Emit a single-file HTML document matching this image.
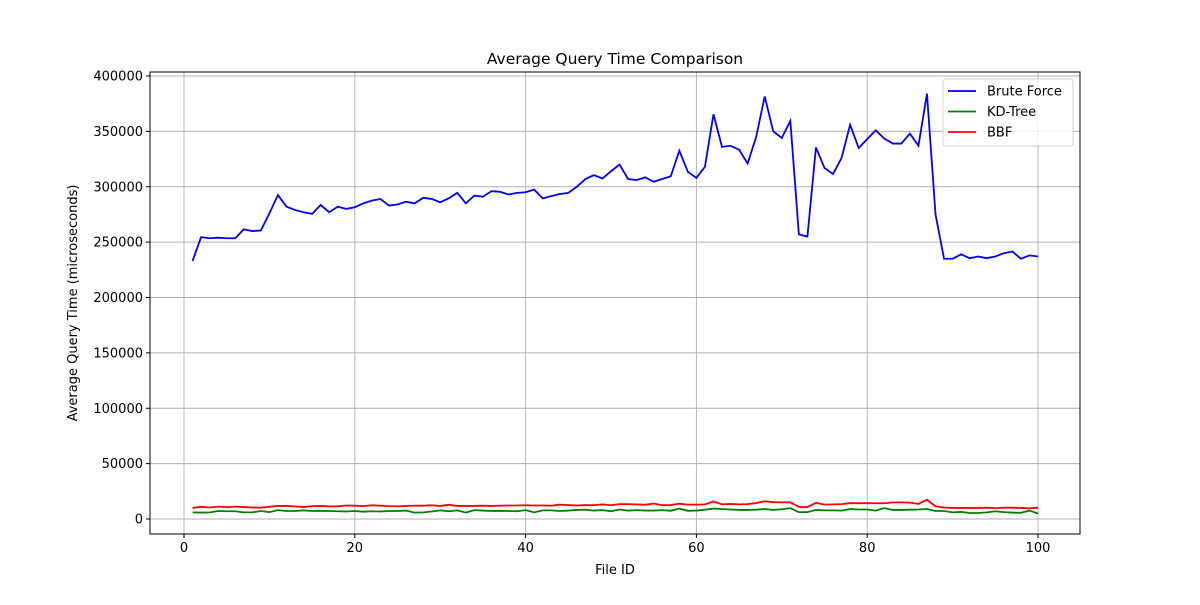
<!DOCTYPE html>
<html><head><meta charset="utf-8"><style>
body{margin:0;background:#fff;font-family:"Liberation Sans","DejaVu Sans",sans-serif;}
svg text{font-family:"DejaVu Sans","Liberation Sans",sans-serif;font-size:13px;fill:#000;}
</style></head><body>
<svg id="c" width="1200" height="600" xmlns="http://www.w3.org/2000/svg"></svg>
<script>
const bruteForce=[233000,254500,253500,254000,253500,253500,261500,260000,260500,276000,292500,282000,279000,277000,275500,283500,277000,282000,280000,281500,285000,287500,289000,283000,284000,286500,285000,290000,289000,286000,289500,294500,285000,292000,291000,296000,295500,293000,294500,295000,297500,289500,291500,293500,294500,300000,307000,310500,307500,314000,320000,307000,306000,308500,304500,307000,309500,332500,313500,308000,318000,365500,336000,337000,333500,321000,345000,381500,350000,344000,359500,257000,255000,335500,317000,311500,326000,356000,335000,343000,351000,343500,339000,339000,348000,337000,384000,275000,235000,235000,239000,235500,237000,235500,237000,240000,241500,235000,238000,237000];
const kdTree=[6000,5800,6000,7200,7000,7000,6000,6000,7200,6200,8000,7200,7200,7800,7200,7400,7200,7000,6800,7200,6600,7000,6800,7200,7200,7600,5800,6000,6800,7800,7000,7800,5800,8000,7600,7200,7400,7200,7000,8000,6000,7800,7800,7200,7600,8200,8400,7600,8000,7000,8600,7600,8000,7600,7600,8000,7400,9400,7400,7600,8400,9400,9000,8600,8200,8200,8400,9000,8200,8800,9800,6200,6200,8200,7800,7800,7600,9000,8600,8600,7600,9800,8200,8200,8400,8600,9000,7200,7200,6000,6400,5400,5400,6000,7000,6200,5800,5600,7600,5000];
const bbf=[10000,11000,10400,11200,10600,11200,10800,10400,10200,11000,11800,11800,11400,10800,11600,11800,11400,11400,12200,12000,11600,12400,12000,11600,11400,11800,12000,12000,12400,11800,12800,11800,11800,11800,12000,11800,12000,12200,12200,12400,12200,12200,12000,13000,12600,12200,12600,12400,13200,12400,13400,13400,13200,12800,14000,12400,12600,13800,13000,13000,13200,15800,13200,13600,13200,13400,14400,16000,15200,15000,15000,11000,10800,14600,13000,13200,13400,14400,14200,14400,14200,14200,15000,15000,14800,13600,17400,11400,10400,10000,10000,10000,10000,10200,9800,10200,10200,10000,9600,10200];
const xTicks=[0,20,40,60,80,100];
const yTicks=[0,50000,100000,150000,200000,250000,300000,350000,400000];
const L=150,R=1080,T=72,B=534;
const X=v=>184+v*8.54;
const Y=v=>519-v*0.0011075;
const svg=document.getElementById('c');
const NS='http://www.w3.org/2000/svg';
function el(t,a,p){const e=document.createElementNS(NS,t);for(const k in a)e.setAttribute(k,a[k]);(p||svg).appendChild(e);return e;}
el('text',{x:615,y:64,'text-anchor':'middle',style:'font-size:15.5px'}).textContent='Average Query Time Comparison';
xTicks.forEach(v=>{
const g=el('line',{x1:X(v),x2:X(v),y1:T,y2:B,stroke:'#b0b0b0','stroke-width':0.9});

el('line',{x1:X(v),x2:X(v),y1:B,y2:B+4,stroke:'#000'});
const t=el('text',{x:X(v),y:B+18,'text-anchor':'middle'});t.textContent=v;

});
yTicks.forEach(v=>{
const g=el('line',{x1:L,x2:R,y1:Y(v),y2:Y(v),stroke:'#b0b0b0','stroke-width':0.9});

el('line',{x1:L-4,x2:L,y1:Y(v),y2:Y(v),stroke:'#000'});
const t=el('text',{x:L-7,y:Y(v)+4.5,'text-anchor':'end'});t.textContent=v;

});
function line(d,c,n){const p=el('polyline',{points:d.map((v,i)=>X(i+1)+','+Y(v)).join(' '),fill:'none',stroke:c,'stroke-width':1.8});
}
line(bruteForce,'#0000ff','brute-force-line');
line(kdTree,'#008000','kd-tree-line');
line(bbf,'#ff0000','bbf-line');
el('rect',{x:L,y:T,width:R-L,height:B-T,fill:'none',stroke:'#000','stroke-width':1});
const xl=el('text',{x:615,y:574,'text-anchor':'middle'});xl.textContent='File ID';

const yl=el('text',{x:77,y:303,'text-anchor':'middle',transform:'rotate(-90 77 303)'});yl.textContent='Average Query Time (microseconds)';

const lg=el('g',{});

el('rect',{x:943,y:79,width:130,height:67,rx:3,fill:'#fff',stroke:'#d0d0d0','fill-opacity':0.8},lg);
[['Brute Force','#0000ff'],['KD-Tree','#008000'],['BBF','#ff0000']].forEach((s,i)=>{
const y=91+i*20.5;
el('line',{x1:948,x2:976,y1:y,y2:y,stroke:s[1],'stroke-width':1.8},lg);
const t=el('text',{x:987,y:y+4.5},lg);t.textContent=s[0];

});
</script>
</body></html>
